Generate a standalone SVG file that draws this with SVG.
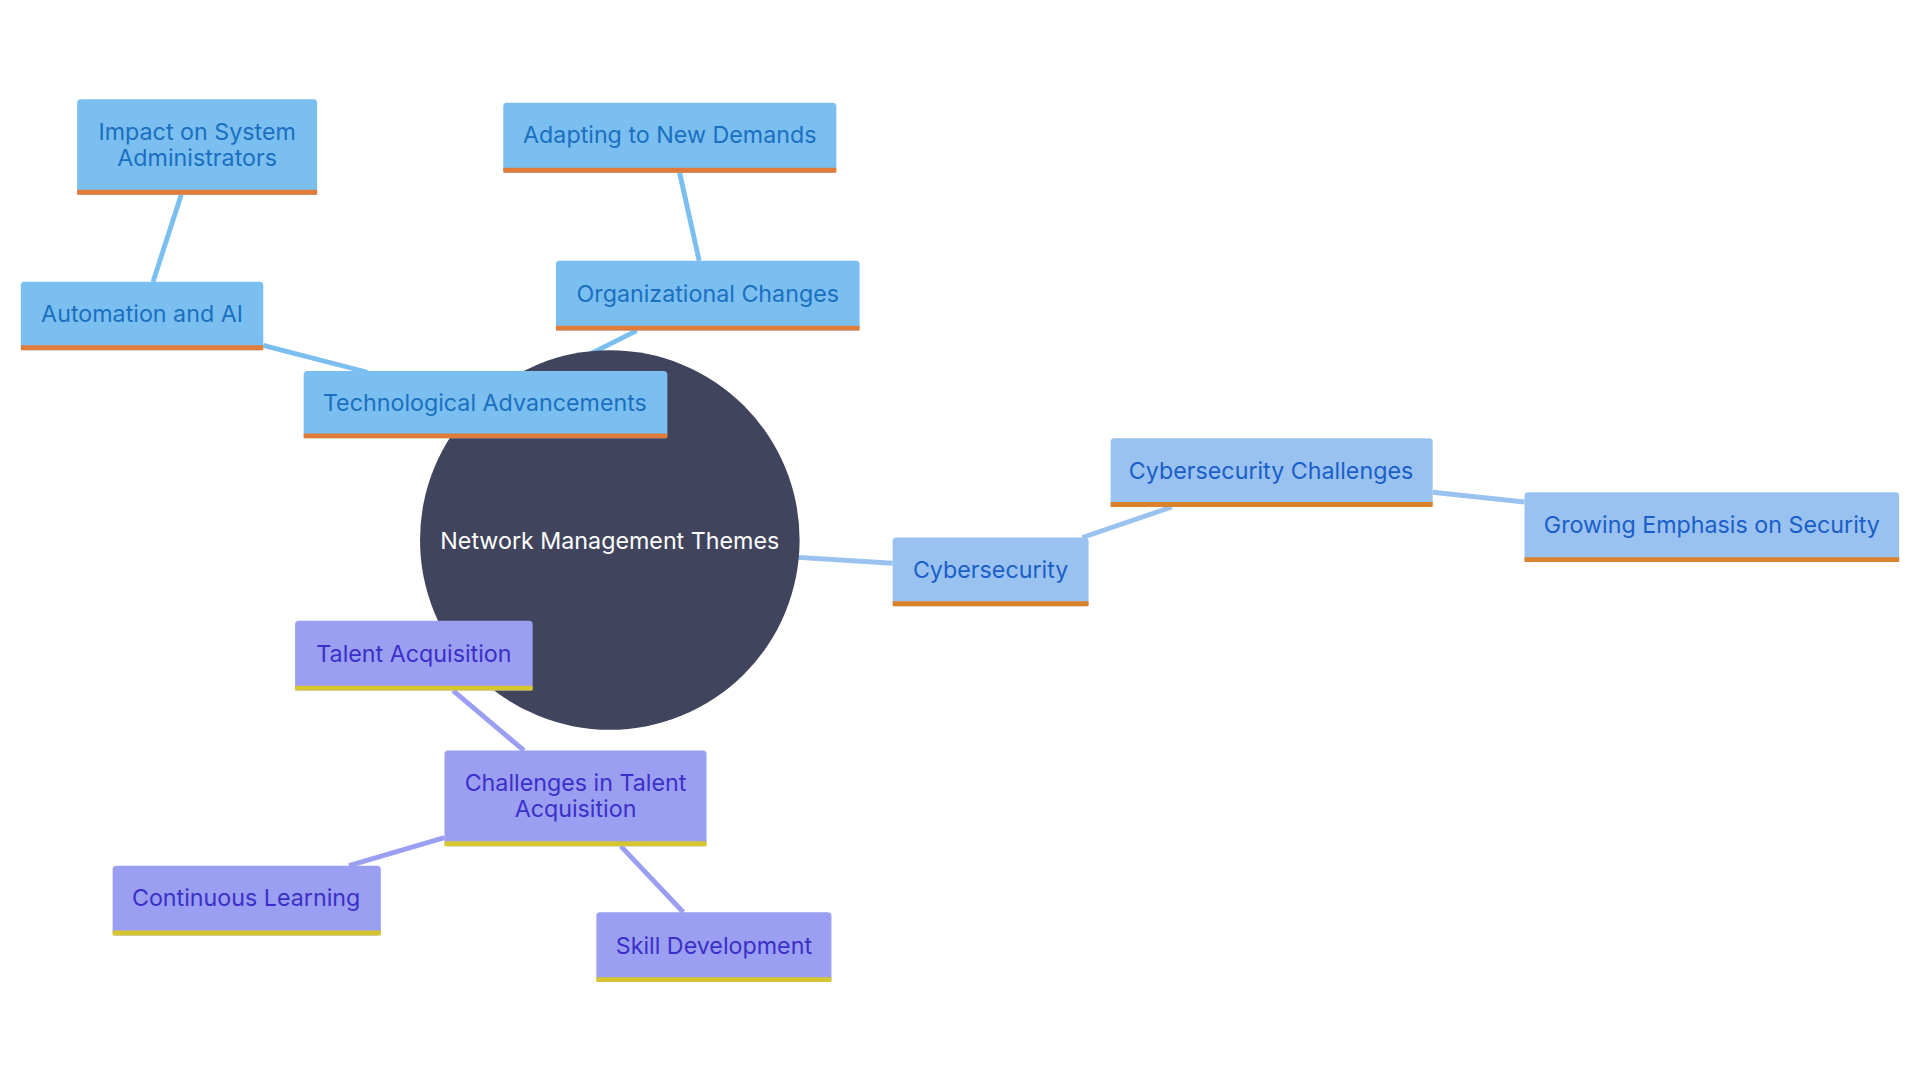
<svg xmlns="http://www.w3.org/2000/svg" width="1920" height="1080" viewBox="0 0 1920 1080">
<style>
text{font-family:Inter,"Noto Sans",sans-serif;font-size:19px;text-anchor:middle;dominant-baseline:central}
.t rect{fill:#7bbff0}.t text{fill:#1a6fc0}.t line{stroke:#e07b39}
.c rect{fill:#99c2f0}.c text{fill:#1a5fc7}.c line{stroke:#d9822b}
.p rect{fill:#9b9ff2}.p text{fill:#3b2fc9}.p line{stroke:#d4c531}
.b{stroke-width:4}
#edges line{stroke-width:4;fill:none}
</style>
<rect width="1920" height="1080" fill="#fff"/>
<g transform="scale(1.2245)">
<g id="edges">
<line x1="520" y1="270" x2="400" y2="330" stroke="#7bbff0"/>
<line x1="215" y1="282" x2="300" y2="304" stroke="#7bbff0"/>
<line x1="125" y1="230" x2="148" y2="159" stroke="#7bbff0"/>
<line x1="571" y1="213" x2="555" y2="141" stroke="#7bbff0"/>
<line x1="600" y1="452" x2="729" y2="460" stroke="#99c2f0"/>
<line x1="884" y1="439" x2="957" y2="414" stroke="#99c2f0"/>
<line x1="1170" y1="402" x2="1245" y2="410" stroke="#99c2f0"/>
<line x1="428" y1="613" x2="370" y2="564" stroke="#9b9ff2"/>
<line x1="363" y1="684" x2="285" y2="707" stroke="#9b9ff2"/>
<line x1="507" y1="691" x2="558" y2="745" stroke="#9b9ff2"/>
</g>
<g id="center"><circle cx="498" cy="441" r="155" fill="#40445c"/><text x="498" y="441" fill="#fff">Network Management Themes</text></g>
<g id="tech" class="t"><rect x="248" y="303" width="297" height="55" rx="3"/><line class="b" x1="248" y1="356" x2="545" y2="356"/><text x="396" y="329">Technological Advancements</text></g>
<g id="auto" class="t"><rect x="17" y="230" width="198" height="56" rx="3"/><line class="b" x1="17" y1="284" x2="215" y2="284"/><text x="116" y="256">Automation and AI</text></g>
<g id="impact" class="t"><rect x="63" y="81" width="196" height="78" rx="3"/><line class="b" x1="63" y1="157" x2="259" y2="157"/><text x="161" y="107">Impact on System</text><text x="161" y="129">Administrators</text></g>
<g id="org" class="t"><rect x="454" y="213" width="248" height="57" rx="3"/><line class="b" x1="454" y1="268" x2="702" y2="268"/><text x="578" y="240">Organizational Changes</text></g>
<g id="adapt" class="t"><rect x="411" y="84" width="272" height="57" rx="3"/><line class="b" x1="411" y1="139" x2="683" y2="139"/><text x="547" y="110">Adapting to New Demands</text></g>
<g id="cyber" class="c"><rect x="729" y="439" width="160" height="56" rx="3"/><line class="b" x1="729" y1="493" x2="889" y2="493"/><text x="809" y="465">Cybersecurity</text></g>
<g id="cchal" class="c"><rect x="907" y="358" width="263" height="56" rx="3"/><line class="b" x1="907" y1="412" x2="1170" y2="412"/><text x="1038" y="384">Cybersecurity Challenges</text></g>
<g id="grow" class="c"><rect x="1245" y="402" width="306" height="57" rx="3"/><line class="b" x1="1245" y1="457" x2="1551" y2="457"/><text x="1398" y="428">Growing Emphasis on Security</text></g>
<g id="talent" class="p"><rect x="241" y="507" width="194" height="57" rx="3"/><line class="b" x1="241" y1="562" x2="435" y2="562"/><text x="338" y="534">Talent Acquisition</text></g>
<g id="tchal" class="p"><rect x="363" y="613" width="214" height="78" rx="3"/><line class="b" x1="363" y1="689" x2="577" y2="689"/><text x="470" y="639">Challenges in Talent</text><text x="470" y="660">Acquisition</text></g>
<g id="cont" class="p"><rect x="92" y="707" width="219" height="57" rx="3"/><line class="b" x1="92" y1="762" x2="311" y2="762"/><text x="201" y="733">Continuous Learning</text></g>
<g id="skill" class="p"><rect x="487" y="745" width="192" height="57" rx="3"/><line class="b" x1="487" y1="800" x2="679" y2="800"/><text x="583" y="772">Skill Development</text></g>
</g>
</svg>
